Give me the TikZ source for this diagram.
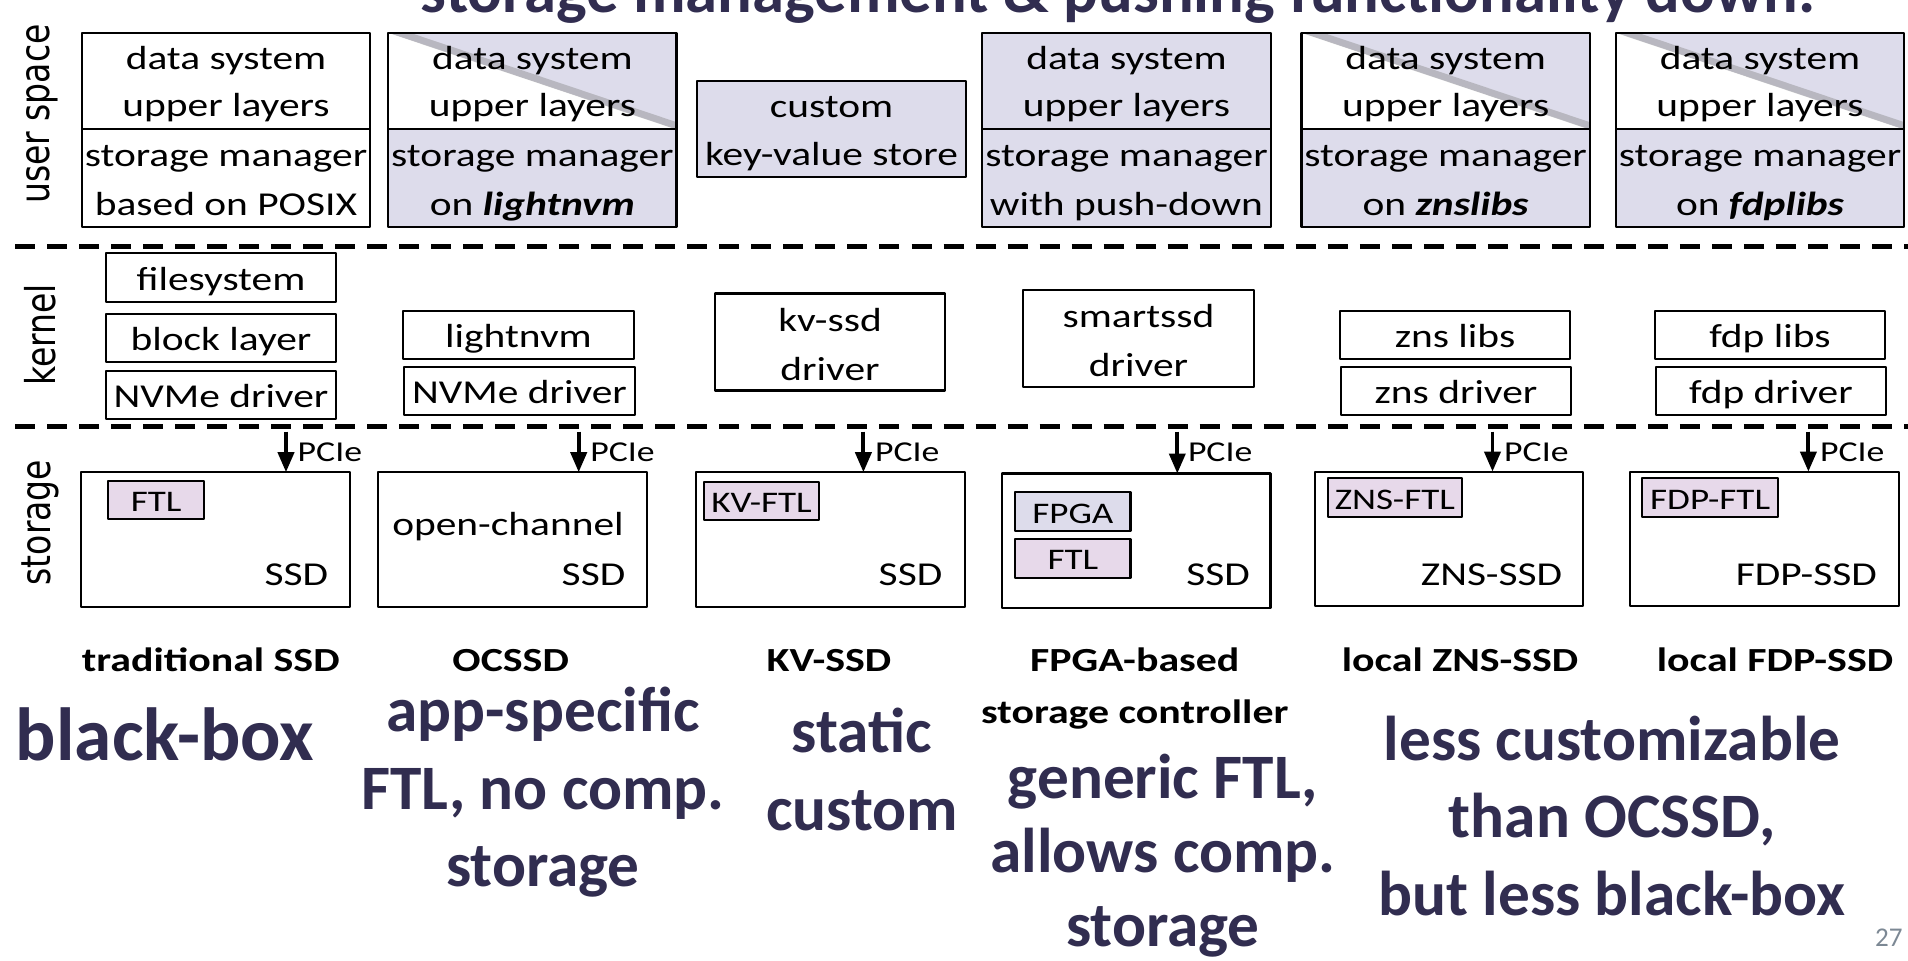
\documentclass[tikz,border=0pt]{standalone}
\usepackage{graphicx}
\usepackage{fontspec}
\setmainfont{Carlito}
\newfontfamily\figfont[FakeStretch=1.24]{Carlito}
\newfontfamily\layerfont{DejaVu Sans}
\usetikzlibrary{positioning,arrows.meta}

\definecolor{lav}{HTML}{DDDCEB}
\definecolor{ftlpink}{HTML}{E7D9EA}
\definecolor{ink}{HTML}{312D50}
\definecolor{pagegray}{HTML}{7C8894}

\begin{document}
\begin{tikzpicture}[x=0.01cm,y=-0.01cm,line join=round,>={Triangle[length=2mm,width=1.6mm]},
  box/.style={draw,line width=0.6pt,inner sep=0pt,outer sep=0pt,align=center,text depth=0pt,
    font=\figfont\fontsize{9.5}{13.8}\selectfont},
  userbox/.style={box,minimum width=2.88cm,minimum height=0.966cm,text height=0.70cm,
    font=\figfont\fontsize{9.5}{13.1}\selectfont},
  mgrbox/.style={box,minimum width=2.88cm,minimum height=0.974cm,text height=0.74cm},
  kbox/.style={box,minimum width=2.3cm,minimum height=0.484cm,text height=0.25cm},
  tallbox/.style={kbox,minimum height=0.97cm,text height=0.76cm},
  ssdbox/.style={box,minimum width=2.68cm,minimum height=1.345cm},
  ftlbox/.style={box,fill=ftlpink,anchor=north west,minimum height=0.386cm,text height=0.23cm,
    font=\figfont\fontsize{8.5}{10}\selectfont},
  curl/.style={fill=lav,path picture={
    \fill[white] (path picture bounding box.north west) -- (path picture bounding box.south west)
      -- (path picture bounding box.south east) -- cycle;
    \draw[black!45,line width=2pt,opacity=0.45]
      ([yshift=1pt]path picture bounding box.north west) -- ([yshift=1pt]path picture bounding box.south east);}},
  layer/.style={font=\layerfont\fontsize{9.4}{11}\selectfont,rotate=90},
  ssdtext/.style={anchor=base east,inner sep=0pt,font=\figfont\fontsize{9.5}{11}\selectfont},
  pcie/.style={anchor=base west,inner sep=0pt,font=\figfont\fontsize{8.2}{10}\selectfont},
  divider/.style={line width=1.3pt,dash pattern=on 0.2cm off 0.12cm},
  lbl/.style={anchor=base,inner sep=0pt,align=center,font=\figfont\bfseries\fontsize{9.6}{14.7}\selectfont},
  big/.style={anchor=base,inner sep=0pt,align=center,text=ink,font=\fontsize{18}{22}\selectfont\bfseries}]

  \useasboundingbox (0,0) rectangle (1908,960);

  % Title, cut by the top edge
  \node[anchor=base,inner sep=0pt,text=ink,font=\fontsize{18.4}{22}\selectfont\bfseries] (ttl) at (1118,12)
    {storage management \& pushing functionality down.};

  % Layer names and separators
  \node[layer] (lus) at (42,114) {\scalebox{1}[1.24]{user space}};
  \node[layer] (lkn) at (40,335) {\scalebox{1}[1.24]{kernel}};
  \node[layer] (lst) at (40,522.5) {\scalebox{1}[1.24]{storage}};
  \draw[divider] (15,246.7) -- (1908,246.7);
  \draw[divider] (15,426.7) -- (1908,426.7);

  % User space
  \node[userbox] (up1) at (226,81) {data system\\upper layers};
  \node[mgrbox,below=0pt of up1] (sm1) {storage manager\\based on POSIX};
  \node[userbox,curl] (up2) at (532.4,81) {data system\\upper layers};
  \node[mgrbox,fill=lav,below=0pt of up2] (sm2) {storage manager\\on \textbf{\textit{lightnvm}}};
  \node[box,fill=lav,minimum width=2.69cm,minimum height=0.96cm,text height=0.74cm] (kvs) at (831.5,128.7)
    {custom\\key-value store};
  \node[userbox,fill=lav] (up4) at (1126.5,81) {data system\\upper layers};
  \node[mgrbox,fill=lav,below=0pt of up4] (sm4) {storage manager\\with push-down};
  \node[userbox,curl] (up5) at (1445.6,81) {data system\\upper layers};
  \node[mgrbox,fill=lav,below=0pt of up5] (sm5) {storage manager\\on \textbf{\textit{znslibs}}};
  \node[userbox,curl] (up6) at (1760,81) {data system\\upper layers};
  \node[mgrbox,fill=lav,below=0pt of up6] (sm6) {storage manager\\on \textbf{\textit{fdplibs}}};

  % Kernel
  \node[kbox] (fs) at (221,277.5) {filesystem};
  \node[kbox] (blk) at (221,338) {block layer};
  \node[kbox] (nvme1) at (221,395) {NVMe driver};
  \node[kbox] (lnvm) at (518.5,335) {lightnvm};
  \node[kbox] (nvme2) at (519.5,391) {NVMe driver};
  \node[tallbox] (kvdrv) at (830,342) {kv-ssd\\driver};
  \node[tallbox] (smdrv) at (1138.5,338.4) {smartssd\\driver};
  \node[kbox] (znslib) at (1455,335) {zns libs};
  \node[kbox] (znsdrv) at (1456,391) {zns driver};
  \node[kbox] (fdplib) at (1770,335) {fdp libs};
  \node[kbox] (fdpdrv) at (1771,391) {fdp driver};

  % Storage devices
  \node[ssdbox] (ssd1) at (215.5,539.5) {};
  \node[ssdbox] (ssd2) at (512.5,539.5) {};
  \node[ssdbox] (ssd3) at (830.5,539.5) {};
  \node[ssdbox] (ssd4) at (1136.4,540.8) {};
  \node[ssdbox] (ssd5) at (1449.2,538.9) {};
  \node[ssdbox] (ssd6) at (1764.5,538.9) {};

  \node[ftlbox,minimum width=0.956cm] (ftl1) at (108.4,480.7) {FTL};
  \node[ftlbox,minimum width=1.15cm] (kvftl) at (704,481.7) {KV-FTL};
  \node[ftlbox,fill=lav,minimum width=1.15cm] (fpga) at (1015.4,492.3) {FPGA};
  \node[ftlbox,minimum width=1.15cm] (ftl4) at (1015.4,539) {FTL};
  \node[ftlbox,minimum width=1.344cm] (znsftl) at (1327.6,478.3) {ZNS-FTL};
  \node[ftlbox,minimum width=1.356cm] (fdpftl) at (1642.3,478.3) {FDP-FTL};

  \node[ssdtext] (t1) at (328.8,585) {SSD};
  \node[ssdtext,anchor=base] (t2a) at (508,535) {open-channel};
  \node[ssdtext] (t2) at (626,585) {SSD};
  \node[ssdtext] (t3) at (943,585) {SSD};
  \node[ssdtext] (t4) at (1250.6,585) {SSD};
  \node[ssdtext] (t5) at (1562.8,585) {ZNS-SSD};
  \node[ssdtext] (t6) at (1877.5,585) {FDP-SSD};

  % PCIe links
  \coordinate (pc1) at (286,431.7);
  \coordinate (pc2) at (578.7,431.7);
  \coordinate (pc3) at (863.4,431.7);
  \coordinate (pc4) at (1177.3,431.7);
  \coordinate (pc5) at (1492.5,431.7);
  \coordinate (pc6) at (1808.4,431.7);
  \draw[->,line width=1.1pt] (pc1) -- (pc1 |- ssd1.north);
  \draw[->,line width=1.1pt] (pc2) -- (pc2 |- ssd2.north);
  \draw[->,line width=1.1pt] (pc3) -- (pc3 |- ssd3.north);
  \draw[->,line width=1.1pt] (pc4) -- (pc4 |- ssd4.north);
  \draw[->,line width=1.1pt] (pc5) -- (pc5 |- ssd5.north);
  \draw[->,line width=1.1pt] (pc6) -- (pc6 |- ssd6.north);
  \node[pcie] at (297,461.7) {PCIe};
  \node[pcie] at (589.7,461.7) {PCIe};
  \node[pcie] at (874.4,461.7) {PCIe};
  \node[pcie] at (1187.3,461.7) {PCIe};
  \node[pcie] at (1503.5,461.7) {PCIe};
  \node[pcie] at (1819.4,461.7) {PCIe};

  % Device names
  \node[lbl] (n1) at (210.7,671.7) {traditional SSD};
  \node[lbl] (n2) at (510.7,671.7) {OCSSD};
  \node[lbl] (n3) at (829,671.7) {KV-SSD};
  \node[lbl] (n4) at (1134.8,723.3) {FPGA-based\\storage controller};
  \node[lbl] (n5) at (1460,671.7) {local ZNS-SSD};
  \node[lbl] (n6) at (1775,671.7) {local FDP-SSD};

  % Verdicts
  \node[big,font=\fontsize{21.4}{24}\selectfont\bfseries] (v1) at (165,760) {black-box};
  \node[big] (v2) at (543,886.7) {app-specific\\FTL, no comp.\\storage};
  \node[big] (v3) at (862,830) {static\\custom};
  \node[big,font=\fontsize{18}{21}\selectfont\bfseries] (v4) at (1163,946) {generic FTL,\\allows comp.\\storage};
  \node[big] (v5) at (1612,915) {less customizable\\than OCSSD,\\but less black-box};

  \node[anchor=base east,inner sep=0pt,text=pagegray,font=\fontsize{7.7}{9}\selectfont] (pg) at (1903.3,946.7) {27};
\end{tikzpicture}
\end{document}
